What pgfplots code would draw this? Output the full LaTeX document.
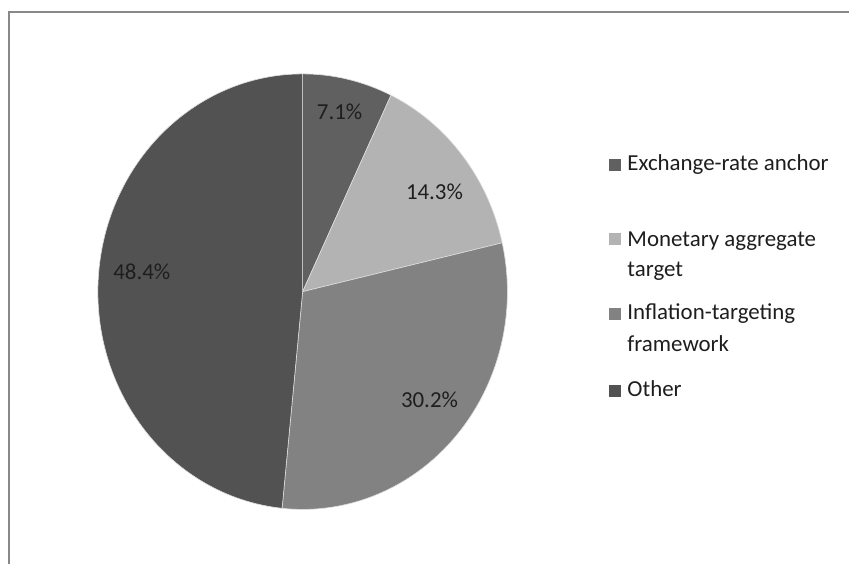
\documentclass[border=0pt]{standalone}
\usepackage{pgfplots}
\pgfplotsset{compat=1.18}
\usepackage{fontspec}
\setmainfont{Carlito}

\definecolor{cExch}{HTML}{606060}
\definecolor{cMon}{HTML}{B3B3B3}
\definecolor{cInf}{HTML}{828282}
\definecolor{cOth}{HTML}{525252}
\definecolor{frame}{HTML}{888888}
\definecolor{txt}{HTML}{1E1E1E}

\tikzset{lab/.style={font=\fontsize{23}{27}\selectfont, text=txt, inner sep=0pt}}

% one wedge: start angle, end angle, colour (centre 303,273; radii 205 x 218)
\newcommand\slice[3]{%
  \filldraw[fill=#3, draw=white!75!gray, line width=0.6bp]
    (axis cs:303,273) -- (axis cs:{303+205*cos(#1)},{273+218*sin(#1)})
    arc[start angle=#1, end angle=#2, x radius=205, y radius=218] -- cycle;}

\begin{document}
\begin{tikzpicture}
% shares in percent, clockwise from 12 o'clock
\def\sA{7.1}\def\sB{14.3}\def\sC{30.2}\def\sD{48.4}
\pgfmathsetmacro\aA{90}
\pgfmathsetmacro\aB{\aA-3.6*\sA}
\pgfmathsetmacro\aC{\aB-3.6*\sB}
\pgfmathsetmacro\aD{\aC-3.6*\sC}
\pgfmathsetmacro\aE{\aD-3.6*\sD}
\begin{axis}[
  hide axis,
  scale only axis,
  width=850bp, height=565bp,
  xmin=0, xmax=850, ymin=0, ymax=565,
  clip=false,
  ]
  \path (axis cs:0,0) rectangle (axis cs:850,565);
  \draw[frame, line width=2bp] (axis cs:9,0) -- (axis cs:9,553) -- (axis cs:850,553);

  \slice{\aA}{\aB}{cExch}
  \slice{\aB}{\aC}{cMon}
  \slice{\aC}{\aD}{cInf}
  \slice{\aD}{\aE}{cOth}

  \node[lab, anchor=base] at (axis cs:340,445) {\sA\%};
  \node[lab, anchor=base] at (axis cs:435,365) {\sB\%};
  \node[lab, anchor=base] at (axis cs:430,157) {\sC\%};
  \node[lab, anchor=base] at (axis cs:142,285) {\sD\%};

  % legend
  \fill[cExch] (axis cs:610,394) rectangle (axis cs:622,406);
  \node[lab, anchor=base west] at (axis cs:628,394) {Exchange-rate anchor};
  \fill[cMon] (axis cs:610,320) rectangle (axis cs:622,332);
  \node[lab, anchor=base west] at (axis cs:628,318) {Monetary aggregate};
  \node[lab, anchor=base west] at (axis cs:628,288) {target};
  \fill[cInf] (axis cs:610,245) rectangle (axis cs:622,257);
  \node[lab, anchor=base west] at (axis cs:628,245) {Inflation-targeting};
  \node[lab, anchor=base west] at (axis cs:628,213) {framework};
  \fill[cOth] (axis cs:610,168) rectangle (axis cs:622,180);
  \node[lab, anchor=base west] at (axis cs:628,168) {Other};
\end{axis}
\end{tikzpicture}
\end{document}
